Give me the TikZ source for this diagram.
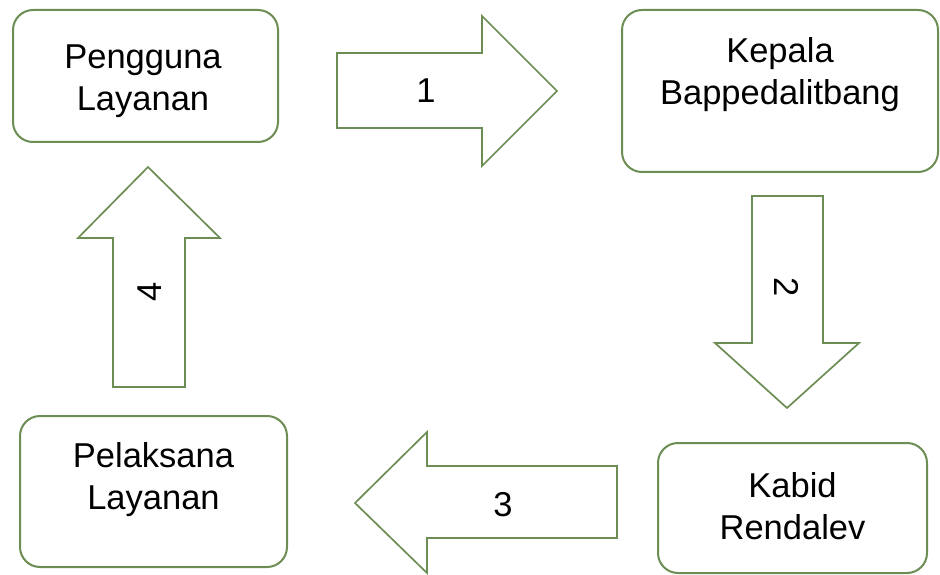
\documentclass[tikz,border=0pt]{standalone}
\usepackage{fontspec}
\setmainfont{Liberation Sans}
\definecolor{boxgreen}{RGB}{108,142,84}
\tikzset{
	box/.style={draw=boxgreen, line width=2pt, rounded corners=20pt, fill=white},
	blockarrow/.style={draw=boxgreen, line width=1.7pt, fill=white, line join=miter},
	txt/.style={align=center, font=\fontsize{34.5}{42}\selectfont, inner sep=0pt}
}

\begin{document}
\begin{tikzpicture}[x=1pt, y=-1pt]
	\useasboundingbox (0,0) rectangle (940,575);
	
	\node[box, minimum width=265pt, minimum height=132pt] (pengguna) at (145.5,76) {};
	\node[box, minimum width=316pt, minimum height=162pt] (kepala) at (780,91) {};
	\node[box, minimum width=267pt, minimum height=151pt] (pelaksana) at (153.5,491.5) {};
	\node[box, minimum width=269pt, minimum height=130pt] (kabid) at (792.5,508) {};
	
	\node[txt] (penggunatxt) at (143,81) {Pengguna\\Layanan};
	\node[txt] (kepalatxt) at (780,75) {Kepala\\Bappedalitbang};
	\node[txt] (pelaksanatxt) at (153.5,480) {Pelaksana\\Layanan};
	\node[txt] (kabidtxt) at (792.5,506) {Kabid\\Rendalev};
	
	% 1
	\draw[blockarrow] (337,53) -- (482,53) -- (482,16) -- (557,91) -- (482,166) -- (482,128) -- (337,128) -- cycle;
	\node[txt] (satu) at (426,91) {1};
	% 2
	\draw[blockarrow] (752,196) -- (823,196) -- (823,343) -- (859,343) -- (787,408) -- (715,343) -- (752,343) -- cycle;
	\node[txt, rotate=-90] (dua) at (787,287) {2};
	% 3
	\draw[blockarrow] (617,466) -- (427,466) -- (427,432) -- (355,503) -- (427,573) -- (427,538) -- (617,538) -- cycle;
	\node[txt] (tiga) at (503,505) {3};
	% 4
	\draw[blockarrow] (113,387) -- (113,238) -- (78,238) -- (148,167) -- (220,238) -- (185,238) -- (185,387) -- cycle;
	\node[txt, rotate=90] (empat) at (150,292) {4};
	
\end{tikzpicture}
\end{document}
